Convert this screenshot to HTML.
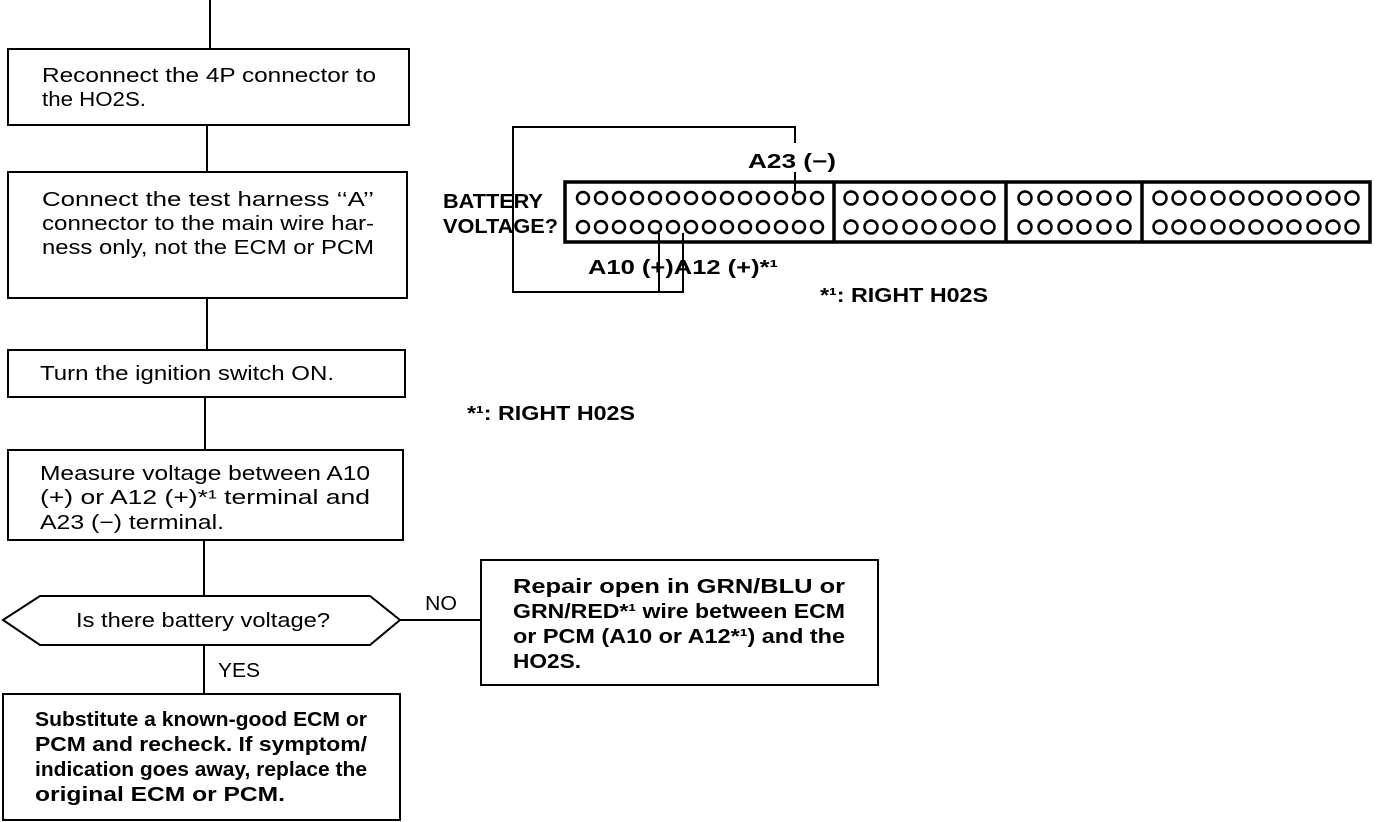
<!DOCTYPE html>
<html><head><meta charset="utf-8"><style>
html,body{margin:0;padding:0;background:#fff;}
svg{display:block;}
text{font-family:"Liberation Sans",sans-serif;font-size:20px;fill:#000;}
.b{font-weight:bold;}
</style></head><body>
<svg width="1392" height="822" viewBox="0 0 1392 822" xmlns="http://www.w3.org/2000/svg">
<g fill="none" stroke="#000" stroke-width="2">
<line x1="210" y1="0" x2="210" y2="49"/>
<rect x="8" y="49" width="401" height="76"/>
<line x1="207" y1="125" x2="207" y2="172"/>
<rect x="8" y="172" width="399" height="126"/>
<line x1="207" y1="298" x2="207" y2="350"/>
<rect x="8" y="350" width="397" height="47"/>
<line x1="205" y1="397" x2="205" y2="450"/>
<rect x="8" y="450" width="395" height="90"/>
<line x1="204" y1="540" x2="204" y2="596"/>
<polygon points="3,620 40,596 370,596 400,620 370,645 40,645"/>
<line x1="400" y1="620" x2="481" y2="620"/>
<rect x="481" y="560" width="397" height="125"/>
<line x1="204" y1="645" x2="204" y2="694"/>
<rect x="3" y="694" width="397" height="126"/>
</g>
<text x="42" y="82" textLength="334" lengthAdjust="spacingAndGlyphs">Reconnect the 4P connector to</text>
<text x="42" y="106" textLength="104" lengthAdjust="spacingAndGlyphs">the HO2S.</text>
<text x="42" y="206" textLength="332" lengthAdjust="spacingAndGlyphs">Connect the test harness ‘‘A’’</text>
<text x="42" y="230" textLength="332" lengthAdjust="spacingAndGlyphs">connector to the main wire har-</text>
<text x="42" y="254" textLength="332" lengthAdjust="spacingAndGlyphs">ness only, not the ECM or PCM</text>
<text x="40" y="380" textLength="294" lengthAdjust="spacingAndGlyphs">Turn the ignition switch ON.</text>
<text x="40" y="480" textLength="330" lengthAdjust="spacingAndGlyphs">Measure voltage between A10</text>
<text x="40" y="504" textLength="330" lengthAdjust="spacingAndGlyphs">(+) or A12 (+)*¹ terminal and</text>
<text x="40" y="529" textLength="184" lengthAdjust="spacingAndGlyphs">A23 (−) terminal.</text>
<text x="76" y="627" textLength="254" lengthAdjust="spacingAndGlyphs">Is there battery voltage?</text>
<text x="425" y="610" textLength="32" lengthAdjust="spacingAndGlyphs">NO</text>
<text x="218" y="677" textLength="42" lengthAdjust="spacingAndGlyphs">YES</text>
<g class="b">
<text class="b" x="513" y="593" textLength="332" lengthAdjust="spacingAndGlyphs">Repair open in GRN/BLU or</text>
<text class="b" x="513" y="618" textLength="332" lengthAdjust="spacingAndGlyphs">GRN/RED*¹ wire between ECM</text>
<text class="b" x="513" y="643" textLength="332" lengthAdjust="spacingAndGlyphs">or PCM (A10 or A12*¹) and the</text>
<text class="b" x="513" y="668" textLength="68" lengthAdjust="spacingAndGlyphs">HO2S.</text>
<text class="b" x="35" y="726" textLength="332" lengthAdjust="spacingAndGlyphs">Substitute a known-good ECM or</text>
<text class="b" x="35" y="751" textLength="332" lengthAdjust="spacingAndGlyphs">PCM and recheck. If symptom/</text>
<text class="b" x="35" y="776" textLength="332" lengthAdjust="spacingAndGlyphs">indication goes away, replace the</text>
<text class="b" x="35" y="801" textLength="250" lengthAdjust="spacingAndGlyphs">original ECM or PCM.</text>
<text class="b" x="443" y="208" textLength="100" lengthAdjust="spacingAndGlyphs">BATTERY</text>
<text class="b" x="443" y="233" textLength="115" lengthAdjust="spacingAndGlyphs">VOLTAGE?</text>
<text class="b" x="748" y="168" textLength="88" lengthAdjust="spacingAndGlyphs">A23 (−)</text>
<text class="b" x="588" y="274" textLength="190" lengthAdjust="spacingAndGlyphs">A10 (+)A12 (+)*¹</text>
<text class="b" x="820" y="302" textLength="168" lengthAdjust="spacingAndGlyphs">*¹: RIGHT H02S</text>
<text class="b" x="467" y="420" textLength="168" lengthAdjust="spacingAndGlyphs">*¹: RIGHT H02S</text>
</g>
<g fill="none" stroke="#000">
<polyline stroke-width="2" points="795,143 795,127 513,127 513,292 683,292 683,233"/>
<line stroke-width="2" x1="659" y1="233" x2="659" y2="292"/>
<line stroke-width="2" x1="795" y1="172" x2="795" y2="192"/>
<rect stroke-width="3.5" x="565" y="182" width="805" height="60"/>
<line stroke-width="3.5" x1="834" y1="182" x2="834" y2="242"/>
<line stroke-width="3.5" x1="1006" y1="182" x2="1006" y2="242"/>
<line stroke-width="3.5" x1="1142" y1="182" x2="1142" y2="242"/>
</g>
<g fill="none" stroke="#000" stroke-width="2.5">
<g id="r1">
<circle cx="583" cy="198" r="6"/><circle cx="601" cy="198" r="6"/><circle cx="619" cy="198" r="6"/><circle cx="637" cy="198" r="6"/><circle cx="655" cy="198" r="6"/><circle cx="673" cy="198" r="6"/><circle cx="691" cy="198" r="6"/><circle cx="709" cy="198" r="6"/><circle cx="727" cy="198" r="6"/><circle cx="745" cy="198" r="6"/><circle cx="763" cy="198" r="6"/><circle cx="781" cy="198" r="6"/><circle cx="799" cy="198" r="6"/><circle cx="817" cy="198" r="6"/>
<circle cx="851" cy="198" r="6.5"/><circle cx="871" cy="198" r="6.5"/><circle cx="890" cy="198" r="6.5"/><circle cx="910" cy="198" r="6.5"/><circle cx="929" cy="198" r="6.5"/><circle cx="949" cy="198" r="6.5"/><circle cx="968" cy="198" r="6.5"/><circle cx="988" cy="198" r="6.5"/>
<circle cx="1025" cy="198" r="6.5"/><circle cx="1045" cy="198" r="6.5"/><circle cx="1065" cy="198" r="6.5"/><circle cx="1084" cy="198" r="6.5"/><circle cx="1104" cy="198" r="6.5"/><circle cx="1124" cy="198" r="6.5"/>
<circle cx="1160" cy="198" r="6.5"/><circle cx="1179" cy="198" r="6.5"/><circle cx="1198" cy="198" r="6.5"/><circle cx="1218" cy="198" r="6.5"/><circle cx="1237" cy="198" r="6.5"/><circle cx="1256" cy="198" r="6.5"/><circle cx="1275" cy="198" r="6.5"/><circle cx="1294" cy="198" r="6.5"/><circle cx="1314" cy="198" r="6.5"/><circle cx="1333" cy="198" r="6.5"/><circle cx="1352" cy="198" r="6.5"/>
</g>
<use href="#r1" y="29"/>
</g>
</svg>
</body></html>
